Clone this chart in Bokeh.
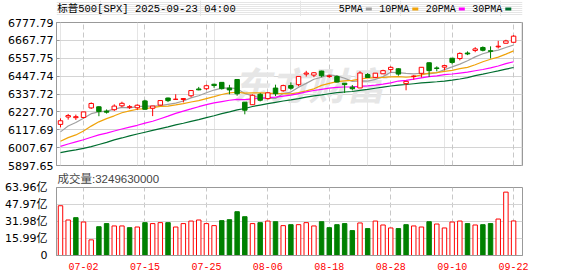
import numpy as np
import pandas as pd
from bokeh.plotting import figure
from bokeh.layouts import column
from bokeh.models import Range1d, FixedTicker, Grid, ColumnDataSource, Label
from bokeh.core.properties import value
from bokeh.embed import file_html
from bokeh.resources import INLINE

# ---------------- data ----------------
dates = ["06-27", "06-30", "07-01", "07-02", "07-03", "07-07", "07-08", "07-09", "07-10", "07-11",
         "07-14", "07-15", "07-16", "07-17", "07-18", "07-21", "07-22", "07-23", "07-24", "07-25",
         "07-28", "07-29", "07-30", "07-31", "08-01", "08-04", "08-05", "08-06", "08-07", "08-08",
         "08-11", "08-12", "08-13", "08-14", "08-15", "08-18", "08-19", "08-20", "08-21", "08-22",
         "08-25", "08-26", "08-27", "08-28", "08-29", "09-02", "09-03", "09-04", "09-05", "09-08",
         "09-09", "09-10", "09-11", "09-12", "09-15", "09-16", "09-17", "09-18", "09-19", "09-22"]

open_ = [6150.7, 6196.0, 6192.0, 6193.3, 6252.0, 6259.0, 6232.4, 6241.0, 6265.0, 6255.7,
         6253.0, 6295.3, 6250.0, 6269.4, 6313.0, 6304.7, 6304.0, 6326.9, 6368.6, 6370.0,
         6397.7, 6409.3, 6374.4, 6427.0, 6287.6, 6271.7, 6336.0, 6309.3, 6374.3, 6358.0,
         6389.7, 6395.2, 6460.5, 6453.9, 6478.8, 6445.0, 6445.0, 6404.0, 6380.0, 6375.0,
         6457.7, 6440.0, 6462.0, 6488.0, 6493.0, 6401.5, 6445.0, 6465.0, 6530.0, 6498.0,
         6503.0, 6558.0, 6556.0, 6590.0, 6606.0, 6624.0, 6604.0, 6628.0, 6650.0, 6656.0]

high = [6187.7, 6215.1, 6210.8, 6227.6, 6286.0, 6262.3, 6242.7, 6274.0, 6290.2, 6269.7,
        6274.0, 6302.0, 6264.6, 6299.9, 6315.6, 6336.1, 6312.0, 6360.6, 6381.3, 6395.0,
        6401.1, 6409.3, 6394.0, 6427.0, 6288.0, 6335.4, 6343.8, 6349.0, 6395.2, 6395.2,
        6409.3, 6446.2, 6480.3, 6473.0, 6481.3, 6455.3, 6452.0, 6404.0, 6393.0, 6478.0,
        6466.9, 6466.0, 6487.0, 6508.0, 6496.0, 6416.0, 6454.0, 6502.5, 6532.7, 6508.0,
        6518.0, 6559.0, 6594.0, 6600.0, 6626.0, 6631.0, 6631.0, 6665.0, 6671.5, 6700.0]

low = [6132.4, 6180.0, 6178.0, 6188.0, 6246.0, 6201.0, 6217.1, 6233.0, 6256.0, 6245.3,
       6240.0, 6241.9, 6201.6, 6268.6, 6288.0, 6303.8, 6286.0, 6317.5, 6360.6, 6363.0,
       6375.9, 6365.0, 6335.9, 6327.0, 6212.7, 6271.7, 6292.0, 6303.0, 6325.1, 6351.4,
       6364.1, 6385.8, 6445.0, 6441.0, 6441.0, 6437.0, 6408.0, 6343.9, 6360.0, 6374.0,
       6438.1, 6436.0, 6461.0, 6470.0, 6450.0, 6360.6, 6426.0, 6440.0, 6443.0, 6477.0,
       6483.0, 6520.0, 6545.0, 6577.0, 6595.0, 6600.0, 6557.0, 6618.0, 6650.0, 6656.0]

close = [6173.07, 6204.95, 6198.01, 6227.42, 6279.35, 6229.98, 6225.52, 6263.26, 6280.46, 6259.75,
         6268.56, 6243.76, 6263.70, 6297.36, 6296.79, 6305.60, 6309.62, 6358.91, 6363.35, 6388.64,
         6389.77, 6370.86, 6362.90, 6339.39, 6238.01, 6329.94, 6299.19, 6345.06, 6340.00, 6389.45,
         6373.45, 6445.76, 6466.58, 6468.54, 6449.80, 6449.15, 6411.37, 6395.78, 6370.17, 6466.91,
         6439.32, 6465.94, 6481.40, 6501.86, 6460.26, 6415.54, 6448.26, 6502.08, 6481.50, 6495.15,
         6512.61, 6532.04, 6587.47, 6584.29, 6615.28, 6606.76, 6600.35, 6631.96, 6664.36, 6693.75]

# closes of the 29 sessions before the first candle (needed for the moving averages)
prior_closes = [5916.93, 5958.38, 5963.60, 5940.46, 5844.61, 5842.01, 5802.82, 5921.54, 5888.55, 5912.17,
                5911.69, 5935.94, 5970.37, 5970.81, 5939.30, 6000.36, 6005.88, 6038.81, 6022.24, 6045.26,
                5976.97, 6033.11, 5982.72, 5980.87, 5967.84, 6025.17, 6092.18, 6092.16, 6141.02]

volume_yi = [46.8, 33.4, 35.6, 31.5, 14.7, 27.1, 30.0, 27.8, 27.8, 26.2,
             26.8, 30.9, 30.0, 30.9, 30.9, 26.8, 30.0, 32.4, 33.4, 30.0,
             28.1, 32.8, 33.7, 41.2, 36.5, 30.0, 30.9, 32.4, 31.8, 28.1,
             29.0, 29.0, 30.9, 27.8, 31.8, 26.2, 29.0, 30.0, 23.4, 30.6,
             25.3, 32.4, 28.7, 25.9, 25.3, 29.0, 27.8, 26.8, 31.8, 29.6,
             25.9, 31.5, 32.4, 30.0, 28.7, 29.0, 30.0, 34.3, 59.6, 32.5]

price_ticks = [5897.65, 6007.67, 6117.69, 6227.70, 6337.72, 6447.74, 6557.75, 6667.77, 6777.79]
volume_ticks = [0, 15.99, 31.98, 47.97, 63.96]
date_ticks = ["07-02", "07-15", "07-25", "08-06", "08-18", "08-28", "09-10", "09-22"]

ma_periods = [5, 10, 20, 30]
ma_names = ["5PMA", "10PMA", "20PMA", "30PMA"]
ma_colors = ["#a0a0a0", "#f0a30a", "#ff00ff", "#006e30"]

title_text = "标普500[SPX] 2025-09-23 04:00"
last_volume = 3249630000

RED = "#ff0000"
GREEN = "#008000"

# ---------------- derived ----------------
n = len(dates)
x = np.arange(n)
all_close = pd.Series(prior_closes + close)
ma_values = {k: all_close.rolling(k).mean().iloc[-n:].to_numpy() for k in ma_periods}

up = [c >= o for o, c in zip(open_, close)]
cdl_color = [RED if u else GREEN for u in up]
cdl_fill = ["#ffffff" if u else GREEN for u in up]
prev = [prior_closes[-1]] + close[:-1]
vup = [c >= pc for c, pc in zip(close, prev)]
vol_color = [RED if u else GREEN for u in vup]
vol_fill = ["#ffffff" if u else GREEN for u in vup]

src = ColumnDataSource(dict(
    x=x, open=open_, high=high, low=low, close=close,
    top=[max(o, c) for o, c in zip(open_, close)],
    bottom=[min(o, c) for o, c in zip(open_, close)],
    color=cdl_color, fill=cdl_fill,
    vol=volume_yi, vcolor=vol_color, vfill=vol_fill,
))

date_idx = [dates.index(d) for d in date_ticks]
xr = Range1d(-0.52, n + 0.16)

LABEL_FONT = "DejaVu Sans"
MONO = "Liberation Mono, Noto Sans CJK SC"
W, LEFT, RIGHT = 578, 56, 56

# ---------------- header (title + legend) ----------------
hdr = figure(width=W, height=16, x_range=Range1d(LEFT, W - RIGHT), y_range=Range1d(16, 0),
             x_axis_location=None, y_axis_location=None, toolbar_location=None,
             output_backend="svg", min_border_left=LEFT, min_border_right=RIGHT,
             min_border_top=0, min_border_bottom=0, outline_line_color=None)
hdr.text(x=[56.7], y=[8.6], text=[title_text], text_font=value(MONO), text_font_size="10.5px",
         text_baseline="middle", text_align="left", text_color="#000000")
lx = 338.3
for name, col in zip(ma_names, ma_colors):
    hdr.text(x=[lx], y=[8.6], text=[name], text_font=value(MONO), text_font_size="10px",
             text_baseline="middle", text_align="left", text_color="#000000")
    sw = lx + len(name) * 6 + 3
    hdr.rect(x=[sw + 3], y=[8.5], width=6, height=3, fill_color=col, line_color=None)
    lx = sw + 6 + 7.5

# ---------------- price panel ----------------
p = figure(width=W, height=156, x_range=xr, y_range=Range1d(price_ticks[0], price_ticks[-1]),
           x_axis_location=None, toolbar_location=None, output_backend="svg",
           min_border_left=LEFT, min_border_right=RIGHT, min_border_top=6, min_border_bottom=7)
p.outline_line_color = "#999999"
p.yaxis.ticker = FixedTicker(ticks=price_ticks)
p.yaxis.major_label_overrides = {t: f"{t:.2f}" for t in price_ticks}
p.yaxis.major_label_text_font = LABEL_FONT
p.yaxis.major_label_text_font_size = "11px"
p.yaxis.major_label_text_color = "#000000"
p.yaxis.major_label_standoff = 3
p.yaxis.axis_line_color = "#999999"
p.yaxis.major_tick_line_color = "#999999"
p.yaxis.major_tick_in = 3
p.yaxis.major_tick_out = 0
p.yaxis.minor_tick_line_color = None
p.ygrid.grid_line_color = "#d4d4d4"
p.add_layout(Grid(dimension=0, ticker=FixedTicker(ticks=date_idx),
                  grid_line_color="#c8c8c8", grid_line_dash="5 3"))

wm = Label(x=252, y=82, x_units="screen", y_units="screen", text="东方财富",
           text_font="Noto Sans CJK SC", text_font_size="38px", text_font_style="bold italic",
           text_color="#e6e6e6", text_align="center", text_baseline="middle", level="underlay")
p.add_layout(wm)

for k, col in zip(ma_periods, ma_colors):
    p.line(x, ma_values[k], line_color=col, line_width=1.2)

p.segment(x0="x", y0="low", x1="x", y1="high", line_color="color", line_width=1, source=src)
p.vbar(x="x", width=0.58, top="top", bottom="bottom", fill_color="fill", line_color="color",
       line_width=1, source=src)

# ---------------- volume panel ----------------
v = figure(width=W, height=104, x_range=xr, y_range=Range1d(volume_ticks[0], volume_ticks[-1]),
           toolbar_location=None, output_backend="svg", title=f"成交量:{last_volume}",
           min_border_left=LEFT, min_border_right=RIGHT, min_border_top=15, min_border_bottom=21)
v.title.align = "left"
v.title.vertical_align = "top"
v.title.text_font = "Liberation Sans, Noto Sans CJK SC"
v.title.text_font_size = "11.5px"
v.title.text_font_style = "normal"
v.title.standoff = 1
v.title.offset = 1
v.outline_line_color = "#999999"
v.yaxis.ticker = FixedTicker(ticks=volume_ticks)
v.yaxis.major_label_overrides = {t: (f"{t:.2f}亿" if t else "0") for t in volume_ticks}
v.yaxis.major_label_text_font = "DejaVu Sans, Noto Sans CJK SC"
v.yaxis.major_label_text_font_size = "11px"
v.yaxis.major_label_text_color = "#000000"
v.yaxis.major_label_standoff = 3
v.yaxis.axis_line_color = "#999999"
v.yaxis.major_tick_line_color = None
v.yaxis.minor_tick_line_color = None
v.xaxis.ticker = FixedTicker(ticks=date_idx)
v.xaxis.major_label_overrides = {i: d for i, d in zip(date_idx, date_ticks)}
v.xaxis.major_label_text_font = "Liberation Mono"
v.xaxis.major_label_text_font_size = "10px"
v.xaxis.major_label_text_color = RED
v.xaxis.major_label_standoff = 1
v.xaxis.axis_line_color = "#999999"
v.xaxis.major_tick_line_color = None
v.xaxis.minor_tick_line_color = None
v.ygrid.grid_line_color = "#d4d4d4"
v.xgrid.grid_line_color = "#c8c8c8"
v.xgrid.grid_line_dash = "5 3"

v.vbar(x="x", width=0.58, top="vol", bottom=0, fill_color="vfill", line_color="vcolor",
       line_width=1, source=src)

layout = column(hdr, p, v, spacing=0)
open("out.html", "w").write(file_html(layout, INLINE))
